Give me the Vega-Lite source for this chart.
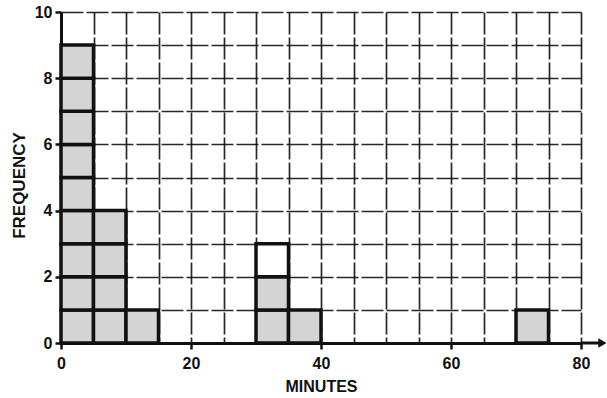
{
  "$schema": "https://vega.github.io/schema/vega-lite/v6.json",
  "width": 520,
  "height": 331,
  "autosize": {"type": "none"},
  "padding": {"left": 61, "top": 12, "right": 26, "bottom": 55},
  "background": "white",
  "config": {
    "view": {"stroke": null},
    "font": "Liberation Sans",
    "axis": {
      "labelFont": "Liberation Sans",
      "labelFontWeight": "bold",
      "labelFontSize": 16,
      "labelColor": "#111",
      "titleFont": "Liberation Sans",
      "titleFontWeight": "bold",
      "titleFontSize": 16,
      "titleColor": "#111",
      "domainColor": "#111",
      "domainWidth": 3,
      "tickColor": "#111",
      "tickWidth": 2.5,
      "tickSize": 6,
      "gridColor": "#111",
      "gridWidth": 1.7,
      "gridOpacity": 0.9,
      "gridDash": [22, 3]
    }
  },
  "layer": [
    {
      "data": {
        "values": [
          {"start": 0, "end": 5, "bottom": 0, "top": 1, "shade": "shaded"},
          {"start": 0, "end": 5, "bottom": 1, "top": 2, "shade": "shaded"},
          {"start": 0, "end": 5, "bottom": 2, "top": 3, "shade": "shaded"},
          {"start": 0, "end": 5, "bottom": 3, "top": 4, "shade": "shaded"},
          {"start": 0, "end": 5, "bottom": 4, "top": 5, "shade": "shaded"},
          {"start": 0, "end": 5, "bottom": 5, "top": 6, "shade": "shaded"},
          {"start": 0, "end": 5, "bottom": 6, "top": 7, "shade": "shaded"},
          {"start": 0, "end": 5, "bottom": 7, "top": 8, "shade": "shaded"},
          {"start": 0, "end": 5, "bottom": 8, "top": 9, "shade": "shaded"},
          {"start": 5, "end": 10, "bottom": 0, "top": 1, "shade": "shaded"},
          {"start": 5, "end": 10, "bottom": 1, "top": 2, "shade": "shaded"},
          {"start": 5, "end": 10, "bottom": 2, "top": 3, "shade": "shaded"},
          {"start": 5, "end": 10, "bottom": 3, "top": 4, "shade": "shaded"},
          {"start": 10, "end": 15, "bottom": 0, "top": 1, "shade": "shaded"},
          {"start": 30, "end": 35, "bottom": 0, "top": 1, "shade": "shaded"},
          {"start": 30, "end": 35, "bottom": 1, "top": 2, "shade": "shaded"},
          {"start": 30, "end": 35, "bottom": 2, "top": 3, "shade": "open"},
          {"start": 35, "end": 40, "bottom": 0, "top": 1, "shade": "shaded"},
          {"start": 70, "end": 75, "bottom": 0, "top": 1, "shade": "shaded"}
        ]
      },
      "mark": {"type": "rect", "stroke": "#111", "strokeWidth": 3.5},
      "encoding": {
        "x": {
          "field": "start",
          "type": "quantitative",
          "scale": {"domain": [0, 80], "nice": false},
          "axis": {
            "title": "MINUTES",
            "values": [0, 5, 10, 15, 20, 25, 30, 35, 40, 45, 50, 55, 60, 65, 70, 75, 80],
            "labelExpr": "datum.value % 20 === 0 ? datum.label : ''",
            "tickOpacity": {"condition": {"test": "datum.value % 20 === 0", "value": 1}, "value": 0},
            "labelPadding": 6,
            "titlePadding": 7,
            "labelFlush": false
          }
        },
        "x2": {"field": "end"},
        "y": {
          "field": "bottom",
          "type": "quantitative",
          "scale": {"domain": [0, 10], "nice": false},
          "axis": {
            "title": "FREQUENCY",
            "values": [0, 1, 2, 3, 4, 5, 6, 7, 8, 9, 10],
            "labelExpr": "datum.value % 2 === 0 ? datum.label : ''",
            "tickOpacity": {"condition": {"test": "datum.value % 2 === 0", "value": 1}, "value": 0},
            "labelPadding": 3,
            "titlePadding": 6,
            "titleFontSize": 17,
            "titleY": 173,
            "labelFlush": false
          }
        },
        "y2": {"field": "top"},
        "fill": {
          "field": "shade",
          "type": "nominal",
          "scale": {"domain": ["shaded", "open"], "range": ["#d4d4d4", "#ffffff"]},
          "legend": null
        }
      }
    },
    {
      "data": {"values": [{"from": 80, "to": 83.2, "level": 0}]},
      "mark": {"type": "rule", "stroke": "#111", "strokeWidth": 3},
      "encoding": {
        "x": {
          "field": "from",
          "type": "quantitative",
          "axis": {
            "title": "MINUTES",
            "values": [0, 5, 10, 15, 20, 25, 30, 35, 40, 45, 50, 55, 60, 65, 70, 75, 80],
            "labelExpr": "datum.value % 20 === 0 ? datum.label : ''",
            "tickOpacity": {"condition": {"test": "datum.value % 20 === 0", "value": 1}, "value": 0},
            "labelPadding": 6,
            "titlePadding": 7,
            "labelFlush": false
          }
        },
        "x2": {"field": "to"},
        "y": {
          "field": "level",
          "type": "quantitative",
          "axis": {
            "title": "FREQUENCY",
            "values": [0, 1, 2, 3, 4, 5, 6, 7, 8, 9, 10],
            "labelExpr": "datum.value % 2 === 0 ? datum.label : ''",
            "tickOpacity": {"condition": {"test": "datum.value % 2 === 0", "value": 1}, "value": 0},
            "labelPadding": 3,
            "titlePadding": 6,
            "titleFontSize": 17,
            "titleY": 173,
            "labelFlush": false
          }
        }
      }
    },
    {
      "data": {"values": [{"tip": 83.3, "level": 0}]},
      "mark": {"type": "point", "shape": "triangle-right", "filled": true, "color": "#111", "size": 90, "opacity": 1},
      "encoding": {
        "x": {
          "field": "tip",
          "type": "quantitative",
          "axis": {
            "title": "MINUTES",
            "values": [0, 5, 10, 15, 20, 25, 30, 35, 40, 45, 50, 55, 60, 65, 70, 75, 80],
            "labelExpr": "datum.value % 20 === 0 ? datum.label : ''",
            "tickOpacity": {"condition": {"test": "datum.value % 20 === 0", "value": 1}, "value": 0},
            "labelPadding": 6,
            "titlePadding": 7,
            "labelFlush": false
          }
        },
        "y": {
          "field": "level",
          "type": "quantitative",
          "axis": {
            "title": "FREQUENCY",
            "values": [0, 1, 2, 3, 4, 5, 6, 7, 8, 9, 10],
            "labelExpr": "datum.value % 2 === 0 ? datum.label : ''",
            "tickOpacity": {"condition": {"test": "datum.value % 2 === 0", "value": 1}, "value": 0},
            "labelPadding": 3,
            "titlePadding": 6,
            "titleFontSize": 17,
            "titleY": 173,
            "labelFlush": false
          }
        }
      }
    }
  ]
}
